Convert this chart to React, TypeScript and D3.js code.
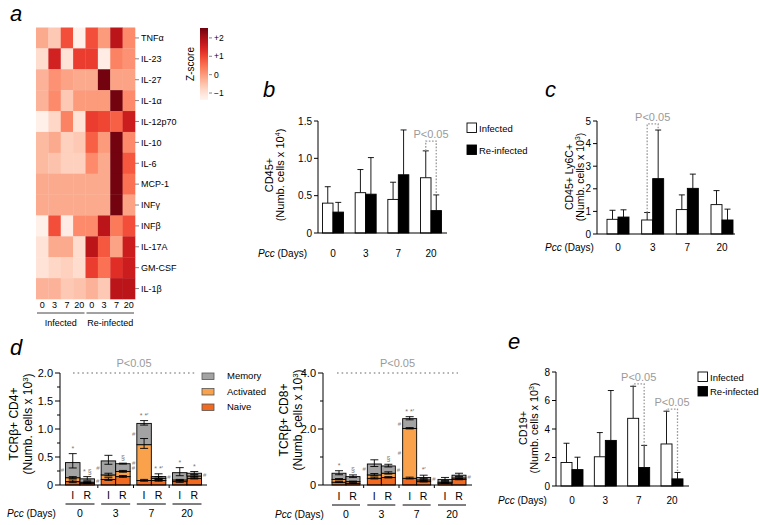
import React from 'react';
import * as d3 from 'd3';

const FONT = '"Liberation Sans", Arial, Helvetica, sans-serif';
const PGRAY = '#9a9a9a';

// ---------- Panel a: heatmap ----------
const cytokines = ['TNFα', 'IL-23', 'IL-27', 'IL-1α', 'IL-12p70', 'IL-10', 'IL-6', 'MCP-1', 'INFγ', 'INFβ', 'IL-17A', 'GM-CSF', 'IL-1β'];
const heatColumns = ['0', '3', '7', '20', '0', '3', '7', '20'];
const heatGroups = ['Infected', 'Re-infected'];
const zScores: number[][] = [
  [-0.2, -0.6, 0.9, -1.3, 0.9, 0.0, 1.8, 0.2],
  [-0.9, 1.5, -1.0, 1.1, 1.1, -1.2, 0.3, 0.1],
  [-0.3, 0.1, -0.1, -0.2, -0.2, 2.5, -0.1, -0.1],
  [-0.3, 0.2, -0.6, 0.0, 0.0, 0.0, 2.5, 0.2],
  [-1.3, -0.8, 0.3, -1.0, 1.1, 1.0, 0.7, 1.6],
  [-0.4, -0.2, -0.7, -0.6, 0.7, 0.0, 2.5, 0.2],
  [-0.4, -0.5, -0.7, -0.7, 0.2, -0.2, 2.5, 0.8],
  [-0.2, -0.2, -0.2, -0.2, -0.2, -0.2, 2.5, 0.5],
  [-0.2, -0.2, -0.2, -0.2, -0.2, -0.2, 2.5, -0.1],
  [-1.3, 0.9, -1.2, 0.2, 0.2, 1.8, 0.4, 0.9],
  [-1.0, -0.2, -0.2, -0.9, 1.8, 0.8, -0.1, 1.6],
  [-1.0, -0.8, -0.7, -0.9, 1.1, 0.5, 1.3, 1.6],
  [-0.3, -0.3, -0.6, -0.5, -0.3, -0.6, 1.8, 1.8],
];
const zTicks = [2, 1, 0, -1];
const zTickLabels = ['+2', '+1', '0', '−1'];

// ---------- Shared ----------
const days = ['0', '3', '7', '20'];
const seriesNames = ['Infected', 'Re-infected'];

// ---------- Panel b: CD45+ ----------
const cd45Infected = [0.40, 0.54, 0.45, 0.74];
const cd45InfectedSd = [0.22, 0.31, 0.23, 0.36];
const cd45Reinfected = [0.28, 0.52, 0.78, 0.30];
const cd45ReinfectedSd = [0.13, 0.49, 0.60, 0.21];
const cd45Ticks = [0, 0.5, 1.0, 1.5];
const cd45TickLabels = ['0', '0.5', '1.0', '1.5'];
const cd45SigDays = ['20'];
const cd45SigLevels = [1.23];

// ---------- Panel c: CD45+ Ly6C+ ----------
const ly6cInfected = [0.65, 0.62, 1.08, 1.30];
const ly6cInfectedSd = [0.40, 0.33, 0.65, 0.62];
const ly6cReinfected = [0.75, 2.45, 2.02, 0.62];
const ly6cReinfectedSd = [0.32, 2.15, 0.63, 0.48];
const ly6cTicks = [0, 1, 2, 3, 4, 5];
const ly6cTickLabels = ['0', '1', '2', '3', '4', '5'];
const ly6cSigDays = ['3'];
const ly6cSigLevels = [4.87];

// ---------- Panel e: CD19+ ----------
const cd19Infected = [1.65, 2.05, 4.75, 2.95];
const cd19InfectedSd = [1.35, 1.70, 2.25, 2.30];
const cd19Reinfected = [1.15, 3.2, 1.3, 0.5];
const cd19ReinfectedSd = [0.87, 3.5, 1.55, 0.45];
const cd19Ticks = [0, 2, 4, 6, 8];
const cd19TickLabels = ['0', '2', '4', '6', '8'];
const cd19SigDays = ['7', '20'];
const cd19SigLevels = [7.16, 5.4];

// ---------- Panel d: T cells stacked ----------
const barGroups = ['I', 'R'];
const subsetKeys = ['naive', 'activated', 'memory'];
const subsetNames = ['Memory', 'Activated', 'Naive'];
// order: I0,R0,I3,R3,I7,R7,I20,R20
const cd4Naive = [0.06, 0.03, 0.10, 0.15, 0.08, 0.08, 0.06, 0.12];
const cd4Activated = [0.07, 0.02, 0.08, 0.09, 0.64, 0.04, 0.03, 0.04];
const cd4Memory = [0.27, 0.06, 0.25, 0.14, 0.38, 0.03, 0.13, 0.05];
const cd4NaiveSd = [0.03, 0.01, 0.03, 0.02, 0.02, 0.02, 0.02, 0.02];
const cd4ActivatedSd = [0.02, 0.01, 0.03, 0.02, 0.11, 0.03, 0.01, 0.02];
const cd4MemorySd = [0.16, 0.04, 0.10, 0.01, 0.05, 0.05, 0.09, 0.03];
const cd4Marks = ['*', '* §', '', '§', '* *′', '* *′', '*', '*'];
const cd4Hash = ['L', 'R', 'L', 'R', 'LL', 'R', '', 'R'];
const cd4Ticks = [0, 0.5, 1.0, 1.5, 2.0];
const cd4TickLabels = ['0', '0.5', '1.0', '1.5', '2.0'];
const cd4Minor = [0.25, 0.75, 1.25, 1.75];

const cd8Naive = [0.10, 0.06, 0.24, 0.27, 0.24, 0.12, 0.06, 0.20];
const cd8Activated = [0.10, 0.06, 0.12, 0.15, 1.78, 0.06, 0.04, 0.05];
const cd8Memory = [0.22, 0.18, 0.39, 0.26, 0.35, 0.09, 0.10, 0.10];
const cd8NaiveSd = [0.02, 0.02, 0.04, 0.03, 0.04, 0.02, 0.01, 0.02];
const cd8ActivatedSd = [0.03, 0.02, 0.05, 0.05, 0.03, 0.03, 0.02, 0.03];
const cd8MemorySd = [0.09, 0.06, 0.15, 0.06, 0.07, 0.08, 0.07, 0.07];
const cd8Marks = ['*', '§', '', '§', '* *′', '*′', '', ''];
const cd8Hash = ['', '', 'L', 'R', 'LL', 'R', '', 'R'];
const cd8Ticks = [0, 2, 4];
const cd8TickLabels = ['0', '2.0', '4.0'];
const cd8Minor = [1, 3];

const subsetColors: Record<string, string> = { naive: '#f26a1f', activated: '#f9a24b', memory: '#a3a3a3' };

// ---------- helpers ----------
function Sup({ main, sup }: { main: string; sup: string }) {
  return (
    <>
      {main}
      <tspan fontSize="0.65em" dy={-4}>{sup}</tspan>
      <tspan dy={4}>)</tspan>
    </>
  );
}

function PccLabel({ x, y, anchor = 'start', size = 10 }: any) {
  return (
    <text x={x} y={y} fontSize={size} textAnchor={anchor}>
      <tspan fontStyle="italic">Pcc</tspan> (Days)
    </text>
  );
}

function Heatmap() {
  const hx = d3.scaleBand<number>().domain(d3.range(8)).range([36, 135]);
  const hy = d3.scaleBand<number>().domain(d3.range(13)).range([27.5, 299]);
  const color = d3.scaleSequential(d3.interpolateReds).domain([-1.4, 2.6]);
  const cb = d3.scaleLinear().domain([-1.38, 2.54]).range([100, 28]);
  const stops = d3.range(0, 1.0001, 0.1).map((t) => {
    const z = -1.38 + t * (2.54 + 1.38);
    return { off: 1 - t, c: color(z) };
  });
  return (
    <g>
      <defs>
        <linearGradient id="zgrad" x1="0" y1="0" x2="0" y2="1">
          {stops
            .slice()
            .sort((a, b) => a.off - b.off)
            .map((s, i) => (
              <stop key={i} offset={s.off} stopColor={s.c} />
            ))}
        </linearGradient>
      </defs>
      {zScores.map((row, r) =>
        row.map((z, c) => (
          <rect key={r + '-' + c} x={hx(c)} y={hy(r)} width={hx.bandwidth() + 0.3} height={hy.bandwidth() + 0.3} fill={color(z)} />
        ))
      )}
      {cytokines.map((name, r) => (
        <g key={name}>
          <line x1={135} x2={139} y1={hy(r)! + hy.bandwidth() / 2} y2={hy(r)! + hy.bandwidth() / 2} stroke="#666" strokeWidth={0.8} />
          <text x={141} y={hy(r)! + hy.bandwidth() / 2 + 3.3} fontSize={9}>
            {name}
          </text>
        </g>
      ))}
      {heatColumns.map((c, i) => (
        <text key={i} x={hx(i)! + hx.bandwidth() / 2} y={308} fontSize={9} textAnchor="middle">
          {c}
        </text>
      ))}
      {heatGroups.map((g, i) => {
        const a = hx(i * 4)! + 1;
        const b = hx(i * 4 + 3)! + hx.bandwidth() - 1;
        return (
          <g key={g}>
            <line x1={a} x2={b} y1={313} y2={313} stroke="#444" strokeWidth={1} />
            <text x={(a + b) / 2} y={326} fontSize={9} textAnchor="middle">
              {g}
            </text>
          </g>
        );
      })}
      <rect x={200} y={28} width={8} height={72} fill="url(#zgrad)" />
      {zTicks.map((t, i) => (
        <g key={t}>
          <line x1={209} x2={212} y1={cb(t)} y2={cb(t)} stroke="#666" strokeWidth={0.8} />
          <text x={214} y={cb(t) + 3} fontSize={8.5}>
            {zTickLabels[i]}
          </text>
        </g>
      ))}
      <text transform="translate(194,64) rotate(-90)" fontSize={10} textAnchor="middle">
        Z-score
      </text>
    </g>
  );
}

function PairBarPanel(p: any) {
  const y = d3.scaleLinear().domain([0, p.yMax]).range([p.yBottom, p.yTop]);
  const cx = d3.scalePoint<string>().domain(days).range(p.centers);
  const bw = p.barW;
  const series = [
    { vals: p.inf, sd: p.infSd, fill: '#fff', off: -bw },
    { vals: p.re, sd: p.reSd, fill: '#000', off: 0 },
  ];
  const sw = 0.9;
  return (
    <g>
      {series.map((s, si) =>
        s.vals.map((v: number, i: number) => {
          const x = cx(days[i])! + s.off;
          const top = y(v + s.sd[i]);
          const mid = x + bw / 2;
          return (
            <g key={si + '-' + i}>
              <line x1={mid} x2={mid} y1={y(v)} y2={top} stroke="#000" strokeWidth={sw} />
              <line x1={mid - 3} x2={mid + 3} y1={top} y2={top} stroke="#000" strokeWidth={sw} />
              <rect x={x} y={y(v)} width={bw} height={y(0) - y(v)} fill={s.fill} stroke="#000" strokeWidth={sw} />
            </g>
          );
        })
      )}
      <line x1={p.axisX} x2={p.axisX} y1={y(0)} y2={y(p.yMax)} stroke="#000" strokeWidth={1} />
      <line x1={p.axisX} x2={p.axisEnd} y1={y(0)} y2={y(0)} stroke="#000" strokeWidth={1} />
      {p.ticks.map((t: number, i: number) => (
        <g key={t}>
          <line x1={p.axisX - 4} x2={p.axisX} y1={y(t)} y2={y(t)} stroke="#000" strokeWidth={1} />
          <text x={p.axisX - 6} y={y(t) + 3.5} fontSize={10} textAnchor="end">
            {p.tickLabels[i]}
          </text>
        </g>
      ))}
      {days.map((d) => (
        <text key={d} x={cx(d)} y={p.dayY} fontSize={10} textAnchor="middle">
          {d}
        </text>
      ))}
      <PccLabel x={p.pccX} y={p.dayY} anchor={p.pccAnchor} />
      {p.sigDays.map((d: string, k: number) => {
        const i = days.indexOf(d);
        const xl = cx(d)! - bw / 2;
        const xr = cx(d)! + bw / 2;
        const yb = y(p.sigLevels[k]);
        const yl = y(p.inf[i] + p.infSd[i]);
        const yr = y(p.re[i] + p.reSd[i]);
        return (
          <g key={d} stroke={PGRAY} strokeWidth={1.3} strokeDasharray="1.6,1.6" fill="none">
            <path d={`M${xl},${yl}V${yb}H${xr}V${yr}`} />
            <text x={(xl + xr) / 2} y={yb - 3} fontSize={11} textAnchor="middle" fill={PGRAY} stroke="none">
              P&lt;0.05
            </text>
          </g>
        );
      })}
      <text transform={`translate(${p.lab1X},${p.labCY}) rotate(-90)`} fontSize={p.labSize} textAnchor="middle">
        {p.lab1}
      </text>
      <text transform={`translate(${p.lab2X},${p.labCY}) rotate(-90)`} fontSize={p.labSize} textAnchor="middle">
        <Sup main="(Numb. cells x 10" sup={p.exp} />
      </text>
      {p.legend &&
        seriesNames.map((n, i) => (
          <g key={n}>
            <rect x={p.legend[0]} y={p.legend[1] + i * p.legend[2]} width={9.5} height={9.5} fill={i === 0 ? '#fff' : '#000'} stroke="#000" strokeWidth={0.9} />
            <text x={p.legend[0] + 12} y={p.legend[1] + i * p.legend[2] + 8.5} fontSize={9.5}>
              {n}
            </text>
          </g>
        ))}
    </g>
  );
}

function StackPanel(p: any) {
  const y = d3.scaleLinear().domain([0, p.yMax]).range([485, 373]);
  const cx = d3.scalePoint<string>().domain(days).range(p.centers);
  const bw = p.barW;
  const rows = days.flatMap((d, i) =>
    barGroups.map((g, j) => {
      const k = i * 2 + j;
      return { k, day: d, g, naive: p.naive[k], activated: p.activated[k], memory: p.memory[k] } as any;
    })
  );
  const stacked = d3.stack<any>().keys(subsetKeys)(rows);
  const sds: Record<string, number[]> = { naive: p.naiveSd, activated: p.activatedSd, memory: p.memorySd };
  const barX = (k: number) => cx(days[Math.floor(k / 2)])! + (k % 2 === 0 ? -bw : 0);
  const sw = 0.9;
  return (
    <g>
      {stacked.map((layer) =>
        layer.map((seg, k) => (
          <rect key={layer.key + k} x={barX(k)} y={y(seg[1])} width={bw} height={y(seg[0]) - y(seg[1])} fill={subsetColors[layer.key]} stroke="#000" strokeWidth={sw} />
        ))
      )}
      {stacked.map((layer) =>
        layer.map((seg, k) => {
          const mid = barX(k) + bw / 2;
          const t = y(seg[1] + sds[layer.key][k]);
          const b = y(Math.max(seg[1] - sds[layer.key][k] * 0.6, seg[0]));
          return (
            <g key={'e' + layer.key + k} stroke="#000" strokeWidth={0.9}>
              <line x1={mid} x2={mid} y1={b} y2={t} />
              <line x1={mid - 4} x2={mid + 4} y1={t} y2={t} />
              <line x1={mid - 4} x2={mid + 4} y1={b} y2={b} />
            </g>
          );
        })
      )}
      {p.marks.map((m: string, k: number) => {
        const tot = p.naive[k] + p.activated[k] + p.memory[k];
        return (
          <text key={'m' + k} x={barX(k) + bw / 2} y={y(tot + p.memorySd[k]) - 3} fontSize={7} textAnchor="middle" fill="#777">
            {m}
          </text>
        );
      })}
      {p.hash.map((h: string, k: number) =>
        h.split('').map((side, n) => {
          const layer = n === 0 ? 'memory' : 'activated';
          const lo = layer === 'memory' ? p.naive[k] + p.activated[k] : p.naive[k];
          const hi = layer === 'memory' ? lo + p.memory[k] : lo + p.activated[k];
          const yy = y((lo + hi) / 2) + 2;
          const xx = side === 'L' ? barX(k) - 1.5 : barX(k) + bw + 1.5;
          return (
            <text key={'h' + k + n} x={xx} y={yy} fontSize={6} textAnchor={side === 'L' ? 'end' : 'start'} fill="#888">
              #
            </text>
          );
        })
      )}
      <line x1={p.axisX} x2={p.axisX} y1={y(0)} y2={y(p.yMax)} stroke="#000" strokeWidth={1} />
      <line x1={p.axisX} x2={p.axisEnd} y1={y(0)} y2={y(0)} stroke="#000" strokeWidth={1} />
      {p.ticks.map((t: number, i: number) => (
        <g key={t}>
          <line x1={p.axisX - 5} x2={p.axisX} y1={y(t)} y2={y(t)} stroke="#000" strokeWidth={1} />
          <text x={p.axisX - 7} y={y(t) + 4} fontSize={11} textAnchor="end">
            {p.tickLabels[i]}
          </text>
        </g>
      ))}
      {p.minor.map((t: number) => (
        <line key={'mn' + t} x1={p.axisX - 3} x2={p.axisX} y1={y(t)} y2={y(t)} stroke="#000" strokeWidth={1} />
      ))}
      {days.slice(1).map((d, i) => {
        const xb = (cx(days[i])! + cx(d)!) / 2;
        return <line key={'xb' + d} x1={xb} x2={xb} y1={y(0)} y2={y(0) + 3} stroke="#000" strokeWidth={1} />;
      })}
      <line x1={p.dotStart} x2={p.dotEnd} y1={y(p.yMax)} y2={y(p.yMax)} stroke={PGRAY} strokeWidth={1.3} strokeDasharray="1.6,3" />
      <text x={(p.dotStart + p.dotEnd) / 2} y={y(p.yMax) - 6} fontSize={11} textAnchor="middle" fill={PGRAY}>
        P&lt;0.05
      </text>
      {rows.map((r: any) => (
        <text key={'g' + r.k} x={barX(r.k) + bw / 2} y={p.grpY} fontSize={10.5} textAnchor="middle">
          {r.g}
        </text>
      ))}
      {days.map((d) => (
        <g key={'d' + d}>
          <line x1={cx(d)! - bw} x2={cx(d)! + bw} y1={p.grpY + 5} y2={p.grpY + 5} stroke="#000" strokeWidth={1} />
          <text x={cx(d)} y={p.grpY + 18} fontSize={10.5} textAnchor="middle">
            {d}
          </text>
        </g>
      ))}
      <PccLabel x={p.pccX} y={p.grpY + 18} />
      <text transform={`translate(${p.lab1X},${p.labCY}) rotate(-90)`} fontSize={12} textAnchor="middle">
        {p.lab1}
      </text>
      <text transform={`translate(${p.lab2X},${p.labCY}) rotate(-90)`} fontSize={12} textAnchor="middle">
        <Sup main="(Numb. cells x 10" sup="3" />
      </text>
    </g>
  );
}

function StackLegend() {
  const fills = [subsetColors.memory, subsetColors.activated, subsetColors.naive];
  return (
    <g>
      {subsetNames.map((n, i) => (
        <g key={n}>
          <rect x={202} y={373 + i * 15.5} width={12} height={6.5} fill={fills[i]} stroke="#555" strokeWidth={0.8} />
          <text x={227} y={379 + i * 15.5} fontSize={9.5}>
            {n}
          </text>
        </g>
      ))}
    </g>
  );
}

export default function App() {
  const letter = (t: string, x: number, y: number) => (
    <text x={x} y={y} fontSize={22} fontStyle="italic">
      {t}
    </text>
  );
  return (
    <svg width={759} height={525} style={{ position: 'absolute', left: 0, top: 0, background: '#fff' }} fontFamily={FONT}>
      <rect width={759} height={525} fill="#fff" />
      {letter('a', 10, 21)}
      {letter('b', 263, 97)}
      {letter('c', 545, 97)}
      {letter('d', 10, 355)}
      {letter('e', 508, 349)}
      <Heatmap />
      <PairBarPanel
        yMax={1.5} yBottom={233} yTop={121} centers={[333, 431]} barW={10.5}
        inf={cd45Infected} infSd={cd45InfectedSd} re={cd45Reinfected} reSd={cd45ReinfectedSd}
        ticks={cd45Ticks} tickLabels={cd45TickLabels} axisX={318} axisEnd={447}
        dayY={257} pccX={307} pccAnchor="end"
        sigDays={cd45SigDays} sigLevels={cd45SigLevels}
        lab1="CD45+" exp="4" lab1X={273} lab2X={284} labCY={175} labSize={11}
        legend={[467, 123, 22]}
      />
      <PairBarPanel
        yMax={5} yBottom={234} yTop={121} centers={[618, 722]} barW={11}
        inf={ly6cInfected} infSd={ly6cInfectedSd} re={ly6cReinfected} reSd={ly6cReinfectedSd}
        ticks={ly6cTicks} tickLabels={ly6cTickLabels} axisX={597} axisEnd={735}
        dayY={251} pccX={545} pccAnchor="start"
        sigDays={ly6cSigDays} sigLevels={ly6cSigLevels}
        lab1="CD45+ Ly6C+" exp="3" lab1X={573} lab2X={584} labCY={177} labSize={10.5}
      />
      <PairBarPanel
        yMax={8} yBottom={486} yTop={372} centers={[572, 672]} barW={11}
        inf={cd19Infected} infSd={cd19InfectedSd} re={cd19Reinfected} reSd={cd19ReinfectedSd}
        ticks={cd19Ticks} tickLabels={cd19TickLabels} axisX={556} axisEnd={689}
        dayY={504} pccX={498} pccAnchor="start"
        sigDays={cd19SigDays} sigLevels={cd19SigLevels}
        lab1="CD19+" exp="3" lab1X={527} lab2X={538} labCY={428} labSize={10.8}
        legend={[698, 372, 14.5]}
      />
      <StackPanel
        yMax={2} centers={[80, 187]} barW={14.5}
        naive={cd4Naive} activated={cd4Activated} memory={cd4Memory}
        naiveSd={cd4NaiveSd} activatedSd={cd4ActivatedSd} memorySd={cd4MemorySd}
        marks={cd4Marks} hash={cd4Hash}
        ticks={cd4Ticks} tickLabels={cd4TickLabels} minor={cd4Minor}
        axisX={60} axisEnd={207} dotStart={73} dotEnd={195}
        grpY={499} pccX={7}
        lab1="TCRβ+ CD4+" lab1X={18} lab2X={32} labCY={424}
      />
      <StackLegend />
      <StackPanel
        yMax={4} centers={[346, 452]} barW={14}
        naive={cd8Naive} activated={cd8Activated} memory={cd8Memory}
        naiveSd={cd8NaiveSd} activatedSd={cd8ActivatedSd} memorySd={cd8MemorySd}
        marks={cd8Marks} hash={cd8Hash}
        ticks={cd8Ticks} tickLabels={cd8TickLabels} minor={cd8Minor}
        axisX={323} axisEnd={472} dotStart={337} dotEnd={458}
        grpY={500} pccX={275}
        lab1="TCRβ+ CD8+" lab1X={288} lab2X={302} labCY={420}
      />
    </svg>
  );
}
